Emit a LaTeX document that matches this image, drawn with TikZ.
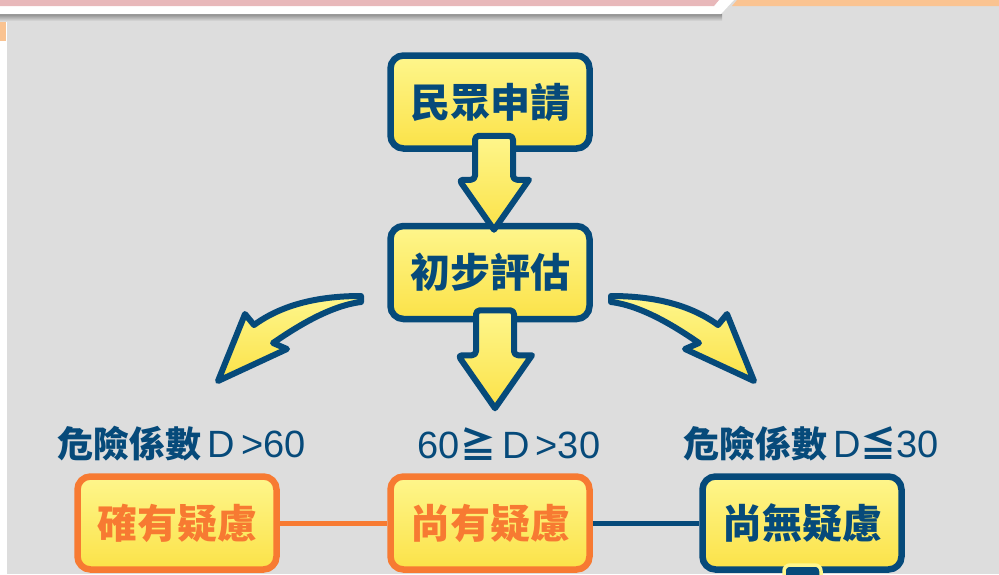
\documentclass[tikz,border=0pt]{standalone}
\usepackage{fontspec}
\newfontfamily\cjk{Noto Sans CJK TC}
\newfontfamily\lat{Liberation Sans}
\usetikzlibrary{calc}
\definecolor{bg}{RGB}{221,221,221}
\definecolor{dblue}{RGB}{6,74,122}
\definecolor{orng}{RGB}{247,122,50}
\definecolor{yT}{RGB}{254,246,140}
\definecolor{yB}{RGB}{251,226,72}
\definecolor{pinkband}{RGB}{232,184,186}
\definecolor{orgband}{RGB}{250,195,145}
\newcommand{\lt}[1]{{\lat\mdseries\fontsize{38}{38}\selectfont #1}}
\tikzset{
  box/.style={rounded corners=13pt, line width=6.5pt, minimum width=199pt,
    minimum height=93pt, top color=yT, bottom color=yB, inner sep=0pt,
    font=\cjk\bfseries\fontsize{40}{40}\selectfont},
  bluebox/.style={box, draw=dblue, text=dblue},
  orangebox/.style={box, draw=orng, text=orng},
  blockarrow/.style={draw=dblue, line width=6pt, line join=round,
    top color=yT, bottom color=yB},
  lbl/.style={text=dblue, inner sep=0pt, font=\cjk\bfseries\fontsize{36}{36}\selectfont},
  link/.style={line width=5pt}
}
\begin{document}
\begin{tikzpicture}[x=1pt,y=-1pt]
\useasboundingbox (0,0) rectangle (999,574);
\clip (0,0) rectangle (999,574);
% background
\fill[bg] (0,0) rectangle (999,574);
\fill[white] (0,14) rectangle (7,574);
\fill[orgband] (0,14) rectangle (6,41);
% top banner
\shade[top color=black!45, bottom color=bg] (0,14) rectangle (722,21);
\fill[orgband] (737,0) -- (999,0) -- (999,6) -- (732,6) -- cycle;
\fill[white] (0,0) -- (734,0) -- (721,14) -- (0,14) -- cycle;
\fill[pinkband] (0,0) -- (719,0) -- (714,6) -- (0,6) -- cycle;
% nodes
\node[bluebox] (apply) at (490,102) {民眾申請};
\node[bluebox] (eval) at (490,272.5) {初步評估};
\node[orangebox] (c1) at (177,523) {確有疑慮};
\node[orangebox] (c2) at (490,523) {尚有疑慮};
\node[bluebox] (c3) at (802,523) {尚無疑慮};
% connectors between bottom boxes
\draw[orng, link] (c1.east) -- (c2.west);
\draw[dblue, link] (c2.east) -- (c3.west);
% labels
\node[lbl] (l1) at (182,444) {危險係數\,\lt{D\,>60}};
\node[lbl] (l2) at (509,444) {\lt{60}≧\,\lt{D\,>30}};
\node[lbl] (l3) at (811,444) {危險係數\,\lt{D}≦\lt{30}};
% down block arrows
\begin{scope}[shift={($(apply.south)+(4,0)$)}]
  \path[blockarrow, rounded corners=4pt] (-19,-16) -- (-19,28) -- (-35,28)
    [sharp corners] -- (0,78) -- (35,28) [rounded corners=4pt] -- (19,28) -- (19,-16) -- cycle;
\end{scope}
\begin{scope}[shift={($(eval.south)+(5,0)$)}]
  \path[blockarrow, rounded corners=4pt] (-19,-12) -- (-19,33) -- (-37,33)
    [sharp corners] -- (0,86) -- (37,33) [rounded corners=4pt] -- (19,33) -- (19,-12) -- cycle;
\end{scope}
% curved arrows
\path[blockarrow] (361,296) .. controls (315,296) and (280,306) .. (254,325)
  -- (245,314) -- (218,381) -- (287,349) -- (273,343)
  .. controls (292,330) and (328,306) .. (361,302) -- cycle;
\begin{scope}[xshift=972pt, xscale=-1]
\path[blockarrow] (361,296) .. controls (315,296) and (280,306) .. (254,325)
  -- (245,314) -- (218,381) -- (287,349) -- (273,343)
  .. controls (292,330) and (328,306) .. (361,302) -- cycle;
\end{scope}
% start of next arrow below the last box
\draw[yT, line width=3.5pt, fill=dblue, rounded corners=6pt] (784,565) rectangle (821,595);
\end{tikzpicture}
\end{document}
